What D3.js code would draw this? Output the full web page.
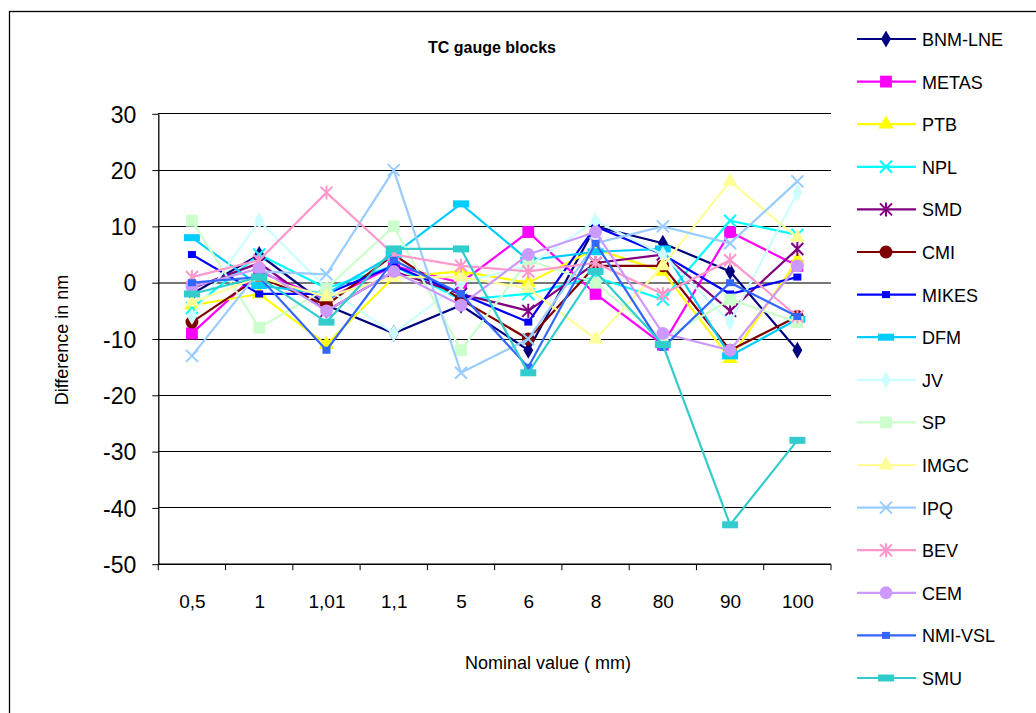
<!DOCTYPE html>
<html>
<head>
<meta charset="utf-8">
<script src="https://cdn.jsdelivr.net/npm/d3@7"></script>
<style>
  body { margin: 0; background: #fff; }
  text { font-family: "Liberation Sans", Arial, sans-serif; }
</style>
</head>
<body>
<script>
const width = 1036;
const height = 713;

// categories (nominal values)
const categories = ["0,5", "1", "1,01", "1,1", "5", "6", "8", "80", "90", "100"];
const yTicks = [30, 20, 10, 0, -10, -20, -30, -40, -50];

// series names and values
const labs = ["BNM-LNE", "METAS", "PTB", "NPL", "SMD", "CMI", "MIKES", "DFM",
  "JV", "SP", "IMGC", "IPQ", "BEV", "CEM", "NMI-VSL", "SMU"];
const bnmLne = [-2, 5, -4, -9, -4, -12, 10, 7, 2, -12];
const metas = [-9, 2, -3, 3, 0, 9, -2, -11, 9, 3];
const ptb = [-4, -2, -11, 1, 2, 0, 6, 2, -13.5, 4];
const npl = [-4.5, 5, -1, 3, -3, -2, 1, -3, 11, 8.5];
const smd = [-1, 3.5, -5, 2, -2, -5, 3.5, 5, -5, 6];
const cmi = [-7, 1, -4, 5, -3, -10, 3, 3, -12, -6];
const mikes = [5, -2, -2, 3, -2, -7, 10, 5, -2, 1];
const dfm = [8, -0.5, -2, 5, 14, 4, 5.5, 6, -13, -6.5];
const jv = [-6, 11, -1, -9, 0, 3, 11, 5, -7, 16];
const sp = [11, -8, -1, 10, -12, 4, 0, -10, -3, -7];
const imgc = [-3.5, 1, -2.5, 1, 1, -1, -10, 3, 18, 8];
const ipq = [-13, 2, 1.5, 20, -16, -10, 7, 10, 7, 18];
const bev = [1, 4, 16, 5, 3, 2, 3.5, -2, 4, -6];
const cem = [-0.7, 2.5, -5, 2, -4, 5, 9, -9, -12, 3];
const nmiVsl = [0, 1, -12, 4, -2, -15, 7, -11.5, 0, -6];
const smu = [-2, 1, -7, 6, 6, -16, 2, -11, -43, -28];

const allValues = [bnmLne, metas, ptb, npl, smd, cmi, mikes, dfm,
  jv, sp, imgc, ipq, bev, cem, nmiVsl, smu];

const colors = ["#000080", "#ff00ff", "#ffff00", "#00ffff", "#800080", "#800000",
  "#0000ff", "#00ccff", "#ccffff", "#ccffcc", "#ffff99", "#99ccff", "#ff99cc",
  "#cc99ff", "#3366ff", "#33cccc"];
const shapes = ["diamond", "square", "triangle", "x", "star", "circle", "smallrect",
  "widerect", "diamond", "square", "triangle", "x", "star", "circle", "smallrect", "widerect"];

const series = labs.map(function(name, i) {
  return { name: name, values: allValues[i], color: colors[i], shape: shapes[i] };
});

const plotLeft = 158.3;
const plotRight = 831;
const plotTop = 113.8;
const plotBottom = 564.2;

const svg = d3.select("body").append("svg")
  .attr("width", width)
  .attr("height", height);

// outer chart border
svg.append("rect")
  .attr("x", 9.5).attr("y", 11.5)
  .attr("width", 1060).attr("height", 740)
  .attr("fill", "#fff")
  .attr("stroke", "#000")
  .attr("stroke-width", 1.3);

const xBand = d3.scaleBand()
  .domain(categories)
  .range([plotLeft, plotRight]);
const xScale = d3.scalePoint()
  .domain(categories)
  .range([plotLeft, plotRight])
  .padding(0.5);
const yScale = d3.scaleLinear()
  .domain([-50, 30])
  .range([plotBottom, plotTop]);

// gridlines
svg.append("g")
  .selectAll("line")
  .data(yTicks)
  .enter()
  .append("line")
  .attr("x1", plotLeft).attr("x2", plotRight)
  .attr("y1", function(d) { return yScale(d); })
  .attr("y2", function(d) { return yScale(d); })
  .attr("stroke", function(d) { return d === 0 ? "#777" : "#000"; })
  .attr("stroke-width", function(d) { return d === 0 ? 2 : 1; })
  .attr("shape-rendering", "crispEdges");

// y axis
const yAxis = d3.axisLeft(yScale)
  .tickValues(yTicks)
  .tickFormat(function(d) { return String(d); })
  .tickSize(6)
  .tickSizeOuter(0)
  .tickPadding(16);
const gy = svg.append("g")
  .attr("transform", `translate(${plotLeft}, 0)`)
  .call(yAxis);
gy.select(".domain").attr("stroke", "#000").attr("stroke-width", 1.3);
gy.selectAll("text")
  .attr("font-size", 23)
  .attr("fill", "#000")
  .attr("dy", "0.36em");

// x axis line with ticks at category boundaries
svg.append("line")
  .attr("x1", plotLeft).attr("x2", plotRight)
  .attr("y1", plotBottom).attr("y2", plotBottom)
  .attr("stroke", "#000").attr("stroke-width", 1.3);
const boundaries = categories.map(function(c) { return xBand(c); }).concat([plotRight]);
svg.append("g")
  .selectAll("line")
  .data(boundaries)
  .enter()
  .append("line")
  .attr("x1", function(d) { return d; })
  .attr("x2", function(d) { return d; })
  .attr("y1", plotBottom).attr("y2", plotBottom + 6)
  .attr("stroke", "#000");
const xAxis = d3.axisBottom(xScale).tickSize(0).tickPadding(30);
const gx = svg.append("g")
  .attr("transform", `translate(0, ${plotBottom})`)
  .call(xAxis);
gx.select(".domain").remove();
gx.selectAll("text")
  .attr("font-size", 19)
  .attr("fill", "#000");

// markers
function markerPath(shape) {
  switch (shape) {
    case "diamond": return d3.symbol(d3.symbolDiamond, 85)();
    case "square": return d3.symbol(d3.symbolSquare, 140)();
    case "triangle": return d3.symbol(d3.symbolTriangle, 100)();
    case "circle": return d3.symbol(d3.symbolCircle, 130)();
    case "x": return "M-6,-6L6,6M-6,6L6,-6";
    case "star": return "M-6,-6L6,6M-6,6L6,-6M0,-7L0,7";
    case "smallrect": return "M-4,-3.5h8v7h-8z";
    case "widerect": return "M-8,-3.5h16v7h-16z";
  }
}
function isStroked(shape) {
  return shape === "x" || shape === "star";
}

const line = d3.line()
  .x(function(d, i) { return xScale(categories[i]); })
  .y(function(d) { return yScale(d); });

series.forEach(function(s) {
  const g = svg.append("g");
  g.append("path")
    .attr("d", line(s.values))
    .attr("fill", "none")
    .attr("stroke", s.color)
    .attr("stroke-width", 2.2);
  g.selectAll("path.m")
    .data(s.values)
    .enter()
    .append("path")
    .attr("class", "m")
    .attr("d", markerPath(s.shape))
    .attr("transform", function(d, i) {
      return `translate(${xScale(categories[i])}, ${yScale(d)})`;
    })
    .attr("fill", isStroked(s.shape) ? "none" : s.color)
    .attr("stroke", isStroked(s.shape) ? s.color : "none")
    .attr("stroke-width", 2);
});

// title and axis labels
svg.append("text")
  .attr("x", 492).attr("y", 53)
  .attr("text-anchor", "middle")
  .attr("font-size", 16)
  .attr("font-weight", "bold")
  .text("TC gauge blocks");

svg.append("text")
  .attr("x", 548).attr("y", 669)
  .attr("text-anchor", "middle")
  .attr("font-size", 18)
  .text("Nominal value ( mm)");

svg.append("text")
  .attr("transform", `translate(68, 340) rotate(-90)`)
  .attr("text-anchor", "middle")
  .attr("font-size", 18)
  .text("Difference  in nm");

// legend
const legend = svg.append("g")
  .selectAll("g")
  .data(series)
  .enter()
  .append("g")
  .attr("transform", function(d, i) { return `translate(0, ${39 + i * 42.6})`; });
legend.append("line")
  .attr("x1", 857).attr("x2", 916)
  .attr("stroke", function(d) { return d.color; })
  .attr("stroke-width", 2.2);
legend.append("path")
  .attr("d", function(d) { return markerPath(d.shape); })
  .attr("transform", "translate(886, 0)")
  .attr("fill", function(d) { return isStroked(d.shape) ? "none" : d.color; })
  .attr("stroke", function(d) { return isStroked(d.shape) ? d.color : "none"; })
  .attr("stroke-width", 2);
legend.append("text")
  .attr("x", 922).attr("y", 7)
  .attr("font-size", 18)
  .text(function(d) { return d.name; });
</script>
</body>
</html>
